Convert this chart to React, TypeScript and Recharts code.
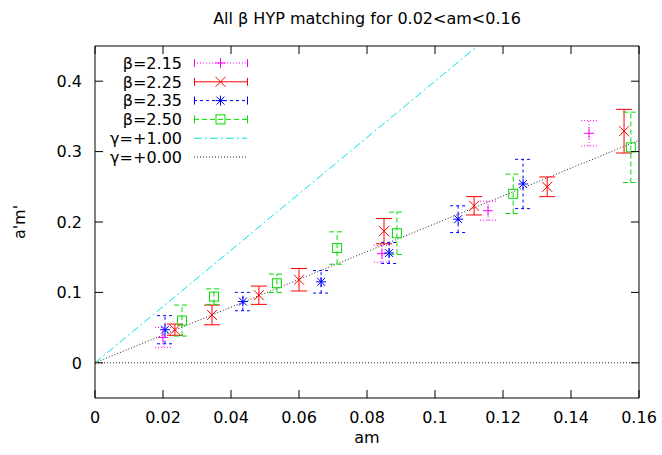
import React from "react";
import {
  ComposedChart,
  Scatter,
  Line,
  XAxis,
  YAxis,
  ErrorBar,
  ReferenceLine
} from "recharts";

const FONT = "'DejaVu Sans', 'Liberation Sans', Arial, sans-serif";

// values: x = am, y = a'm', err = half error bar
const beta215 = [
  { x: 0.02, y: 0.036, err: 0.014 },
  { x: 0.0844, y: 0.155, err: 0.012 },
  { x: 0.1156, y: 0.216, err: 0.0135 },
  { x: 0.1453, y: 0.326, err: 0.018 }
];
const beta225 = [
  { x: 0.0235, y: 0.047, err: 0.008 },
  { x: 0.0344, y: 0.068, err: 0.014 },
  { x: 0.0482, y: 0.096, err: 0.013 },
  { x: 0.06, y: 0.118, err: 0.016 },
  { x: 0.085, y: 0.187, err: 0.018 },
  { x: 0.1115, y: 0.223, err: 0.013 },
  { x: 0.133, y: 0.25, err: 0.014 },
  { x: 0.1556, y: 0.329, err: 0.031 }
];
const beta235 = [
  { x: 0.0206, y: 0.047, err: 0.02 },
  { x: 0.0435, y: 0.087, err: 0.013 },
  { x: 0.0665, y: 0.115, err: 0.016 },
  { x: 0.0865, y: 0.156, err: 0.015 },
  { x: 0.1068, y: 0.204, err: 0.019 },
  { x: 0.1259, y: 0.254, err: 0.035 }
];
const beta250 = [
  { x: 0.0256, y: 0.06, err: 0.022 },
  { x: 0.035, y: 0.094, err: 0.011 },
  { x: 0.0535, y: 0.113, err: 0.013 },
  { x: 0.0712, y: 0.163, err: 0.023 },
  { x: 0.0888, y: 0.184, err: 0.03 },
  { x: 0.123, y: 0.24, err: 0.028 },
  { x: 0.1576, y: 0.306, err: 0.05 }
];
const gamma1 = [
  { x: 0, y: 0 },
  { x: 0.1125, y: 0.45 }
];
const gamma0 = [
  { x: 0, y: 0 },
  { x: 0.16, y: 0.316 }
];

const xTicks = [0, 0.02, 0.04, 0.06, 0.08, 0.1, 0.12, 0.14, 0.16];
const yTicks = [0, 0.1, 0.2, 0.3, 0.4];

const fmt = (v: number) => String(Number(v.toFixed(2)));

const C215 = "#ff00ff";
const C225 = "#ff0000";
const C235 = "#0000ff";
const C250 = "#00dd00";
const CG1 = "#00e5e5";
const CG0 = "#222222";

const TICK = 8;
const FS = 16;

const BottomTick = (p: any) => {
  const ay = p.y - 14;
  return (
    <g>
      <line x1={p.x} y1={ay} x2={p.x} y2={ay - TICK} stroke="#000" />
      <text x={p.x} y={p.y} dy="0.71em" textAnchor="middle" fontFamily={FONT} fontSize={FS} fill="#000">
        {fmt(p.payload.value)}
      </text>
    </g>
  );
};

const TopTick = (p: any) => (
  <line x1={p.x} y1={p.y} x2={p.x} y2={p.y + TICK} stroke="#000" />
);

const LeftTick = (p: any) => {
  const ax = p.x + 13;
  return (
    <g>
      <line x1={ax} y1={p.y} x2={ax + TICK} y2={p.y} stroke="#000" />
      <text x={p.x} y={p.y} dy="0.36em" textAnchor="end" fontFamily={FONT} fontSize={FS} fill="#000">
        {fmt(p.payload.value)}
      </text>
    </g>
  );
};

const RightTick = (p: any) => (
  <line x1={p.x} y1={p.y} x2={p.x - TICK} y2={p.y} stroke="#000" />
);

const plus = (color: string) => (p: any) => (
  <path d={`M${p.cx - 5},${p.cy}h10M${p.cx},${p.cy - 5}v10`} stroke={color} fill="none" />
);
const cross = (color: string) => (p: any) => (
  <path d={`M${p.cx - 5},${p.cy - 5}l10,10M${p.cx - 5},${p.cy + 5}l10,-10`} stroke={color} fill="none" />
);
const star = (color: string) => (p: any) => (
  <path
    d={`M${p.cx - 5},${p.cy}h10M${p.cx},${p.cy - 5}v10M${p.cx - 4},${p.cy - 4}l8,8M${p.cx - 4},${p.cy + 4}l8,-8`}
    stroke={color}
    fill="none"
  />
);
const square = (color: string) => (p: any) => (
  <rect x={p.cx - 4.5} y={p.cy - 4.5} width={9} height={9} stroke={color} fill="none" />
);

const legendRows = [
  { label: "β=2.15", color: C215, dash: "1 2", bars: true, marker: "plus" },
  { label: "β=2.25", color: C225, dash: undefined, bars: true, marker: "cross" },
  { label: "β=2.35", color: C235, dash: "3 3", bars: true, marker: "star" },
  { label: "β=2.50", color: C250, dash: "5 3", bars: true, marker: "square" },
  { label: "γ=+1.00", color: CG1, dash: "8 3 2 3", bars: false, marker: "" },
  { label: "γ=+0.00", color: CG0, dash: "1 2", bars: false, marker: "" }
];

const LegendMarker = ({ kind, cx, cy, color }: any) => {
  const p = { cx, cy };
  if (kind === "plus") return plus(color)(p);
  if (kind === "cross") return cross(color)(p);
  if (kind === "star") return star(color)(p);
  if (kind === "square") return square(color)(p);
  return null;
};

const LegendBox = () => (
  <svg width={662} height={455} style={{ position: "absolute", left: 0, top: 0, pointerEvents: "none" }}>
    {legendRows.map((r, i) => {
      const y = 63 + i * 18.8;
      return (
        <g key={r.label}>
          <text x={182} y={y} dy="0.36em" textAnchor="end" fontFamily={FONT} fontSize={FS} fill="#000">
            {r.label}
          </text>
          <line x1={194} y1={y} x2={247} y2={y} stroke={r.color} strokeDasharray={r.dash} />
          {r.bars && (
            <>
              <line x1={194.5} y1={y - 4} x2={194.5} y2={y + 4} stroke={r.color} />
              <line x1={247.5} y1={y - 4} x2={247.5} y2={y + 4} stroke={r.color} />
            </>
          )}
          <LegendMarker kind={r.marker} cx={220.5} cy={y} color={r.color} />
        </g>
      );
    })}
  </svg>
);

const YLabel = (props: any) => {
  const vb = props.viewBox || { y: 46, height: 352 };
  const cy = vb.y + vb.height / 2;
  return (
    <text
      x={19}
      y={cy}
      transform={`rotate(-90 19 ${cy})`}
      textAnchor="middle"
      dy="0.36em"
      fontFamily={FONT}
      fontSize={FS}
      fill="#000"
    >
      a'm'
    </text>
  );
};

export default function App() {
  return (
    <div style={{ position: "absolute", left: 0, top: 0, width: 662, height: 455, background: "#fff" }}>
      <ComposedChart width={662} height={455} margin={{ top: 45, right: 22, bottom: 0, left: 0 }}>
        <XAxis
          dataKey="x"
          type="number"
          domain={[0, 0.16]}
          ticks={xTicks}
          allowDataOverflow
          height={57}
          stroke="#000"
          tickLine={false}
          tickSize={0}
          tickMargin={14}
          tick={BottomTick}
          label={{ value: "am", position: "insideBottom", offset: 12, fill: "#000", fontSize: FS, fontFamily: FONT }}
        />
        <XAxis
          xAxisId="t"
          orientation="top"
          dataKey="x"
          type="number"
          domain={[0, 0.16]}
          ticks={xTicks}
          allowDataOverflow
          height={1}
          stroke="#000"
          tickLine={false}
          tickSize={0}
          tickMargin={0}
          tick={TopTick}
          label={{
            value: "All β HYP matching for 0.02<am<0.16",
            position: "top",
            offset: 21,
            fill: "#000",
            fontSize: FS,
            fontFamily: FONT
          }}
        />
        <YAxis
          dataKey="y"
          type="number"
          domain={[-0.05, 0.45]}
          ticks={yTicks}
          allowDataOverflow
          width={95}
          stroke="#000"
          tickLine={false}
          tickSize={0}
          tickMargin={13}
          tick={LeftTick}
          label={{ content: YLabel }}
        />
        <YAxis
          yAxisId="r"
          orientation="right"
          dataKey="y"
          type="number"
          domain={[-0.05, 0.45]}
          ticks={yTicks}
          allowDataOverflow
          width={1}
          stroke="#000"
          tickLine={false}
          tickSize={0}
          tickMargin={0}
          tick={RightTick}
        />
        <ReferenceLine y={0} stroke="#222" strokeDasharray="1 2" />
        <Line
          data={gamma1}
          xAxisId="t"
          dataKey="y"
          type="linear"
          stroke={CG1}
          strokeDasharray="8 3 2 3"
          strokeWidth={1}
          dot={false}
          activeDot={false}
          isAnimationActive={false}
        />
        <Line
          data={gamma0}
          yAxisId="r"
          dataKey="y"
          type="linear"
          stroke={CG0}
          strokeDasharray="1 2"
          strokeWidth={1}
          dot={false}
          activeDot={false}
          isAnimationActive={false}
        />
        <Scatter data={beta215} shape={plus(C215)} isAnimationActive={false}>
          <ErrorBar dataKey="err" direction="y" width={8} stroke={C215} strokeWidth={1} strokeDasharray="1 2" />
        </Scatter>
        <Scatter data={beta225} shape={cross(C225)} isAnimationActive={false}>
          <ErrorBar dataKey="err" direction="y" width={8} stroke={C225} strokeWidth={1} />
        </Scatter>
        <Scatter data={beta235} shape={star(C235)} isAnimationActive={false}>
          <ErrorBar dataKey="err" direction="y" width={8} stroke={C235} strokeWidth={1} strokeDasharray="3 3" />
        </Scatter>
        <Scatter data={beta250} shape={square(C250)} isAnimationActive={false}>
          <ErrorBar dataKey="err" direction="y" width={8} stroke={C250} strokeWidth={1} strokeDasharray="5 3" />
        </Scatter>
      </ComposedChart>
      <LegendBox />
    </div>
  );
}
